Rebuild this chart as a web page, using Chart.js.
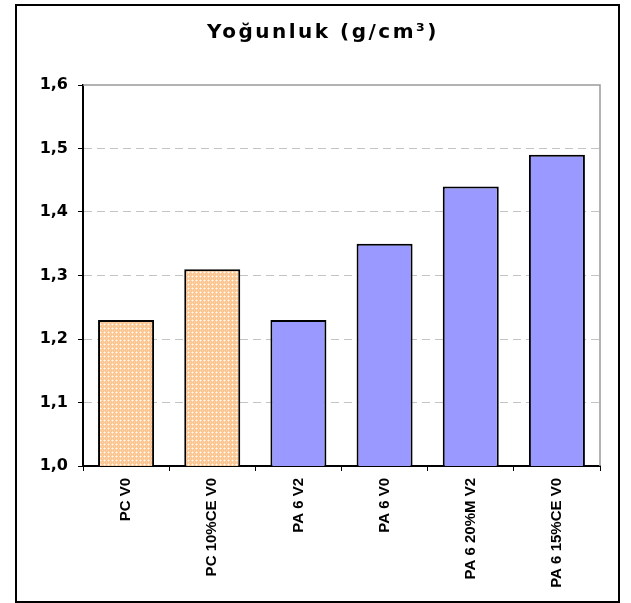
<!DOCTYPE html>
<html lang="tr">

<head>
    <meta charset="UTF-8">
    <title>Yoğunluk</title>
    <script src="https://cdn.jsdelivr.net/npm/chart.js"></script>
    <style>
        body { margin: 0; background: #fff; }
        .kutu { position: relative; width: 631px; height: 603px; }
        .cerceve {
            position: absolute; left: 15px; top: 4px; width: 605px; height: 599px;
            border: 2px solid #000; box-sizing: border-box; pointer-events: none;
        }
    </style>
</head>

<body>
    <div class="kutu">
        <canvas id="grafikYogunluk" width="631" height="603"></canvas>
        <div class="cerceve"></div>
    </div>
</body>

<script>
    const kategoriler = ['PC V0', 'PC 10%CE V0', 'PA 6 V2', 'PA 6 V0', 'PA 6 20%M V2', 'PA 6 15%CE V0'];
    const yogunluk = [1.23, 1.31, 1.23, 1.35, 1.44, 1.49];
    const malzemeTipi = ['PC', 'PC', 'PA', 'PA', 'PA', 'PA'];
    const yEtiketleri = ['1,0', '1,1', '1,2', '1,3', '1,4', '1,5', '1,6'];

    // turuncu kareli desen (PC cubuklari)
    function desenYap() {
        const c = document.createElement('canvas');
        c.width = 4; c.height = 4;
        const x = c.getContext('2d');
        x.fillStyle = '#fcc48f';
        x.fillRect(0, 0, 4, 4);
        x.fillStyle = '#ffe2c6';
        x.fillRect(1, 0, 1, 1);
        x.fillRect(3, 0, 1, 1);
        x.fillRect(0, 1, 1, 1);
        x.fillRect(0, 3, 1, 1);
        x.fillStyle = '#fffaf4';
        x.fillRect(0, 0, 1, 1);
        x.fillStyle = '#fdd3ab';
        x.fillRect(2, 2, 1, 1);
        return x.createPattern(c, 'repeat');
    }
    const desen = desenYap();
    const renkler = malzemeTipi.map(function (t) { return t === 'PC' ? desen : '#9999ff'; });

    const harfAraligi = {
        id: 'harfAraligi',
        beforeDraw: function (chart) { chart.ctx.letterSpacing = '2.5px'; },
        afterDatasetsDraw: function (chart) { chart.ctx.letterSpacing = '0px'; },
        afterDraw: function (chart) {
            const a = chart.chartArea, ctx = chart.ctx;
            ctx.save();
            ctx.strokeStyle = '#9a9a9a';
            ctx.lineWidth = 1.5;
            ctx.beginPath();
            ctx.moveTo(a.left, a.top);
            ctx.lineTo(a.right, a.top);
            ctx.lineTo(a.right, a.bottom);
            ctx.stroke();
            ctx.restore();
        }
    };

    new Chart(document.getElementById('grafikYogunluk'), {
        type: 'bar',
        data: {
            labels: kategoriler,
            datasets: [{
                data: yogunluk,
                backgroundColor: renkler,
                borderColor: '#000',
                borderWidth: 2,
                borderSkipped: 'bottom',
                categoryPercentage: 1,
                barPercentage: 0.65
            }]
        },
        options: {
            responsive: false,
            animation: false,
            layout: { padding: { left: 46, right: 31, top: 0, bottom: 0 } },
            plugins: {
                legend: { display: false },
                tooltip: { enabled: false },
                title: {
                    display: true,
                    text: 'Yoğunluk (g/cm³)',
                    color: '#000',
                    font: { family: 'DejaVu Sans', size: 20, weight: 'bold' },
                    padding: { top: 21, bottom: 40 }
                }
            },
            scales: {
                x: {
                    afterFit: function (s) { s.height = 137; },
                    grid: { drawOnChartArea: false, offset: true, tickColor: '#000', tickLength: 5 },
                    border: { color: '#000', width: 2 },
                    ticks: {
                        z: 1,
                        color: '#000',
                        minRotation: 90, maxRotation: 90,
                        padding: 7,
                        font: { family: 'Liberation Sans', size: 15, weight: 'bold' }
                    }
                },
                y: {
                    min: 1, max: 1.6,
                    afterFit: function (s) {
                        s.width = 37;
                        // etiketler eksen kutusunun soluna tasabilsin
                        s._computeLabelArea = function () { return null; };
                    },
                    grid: {
                        color: function (c) { return (c.index === 0 || c.index === 6) ? 'rgba(0,0,0,0)' : '#c4c4c4'; },
                        tickColor: '#000',
                        tickLength: 5
                    },
                    border: { color: '#000', width: 2, dash: [8, 5] },
                    ticks: {
                        z: 1,
                        stepSize: 0.1,
                        color: '#000',
                        padding: 10,
                        font: { family: 'DejaVu Sans', size: 16, weight: 'bold' },
                        callback: function (v, i) { return yEtiketleri[i]; }
                    }
                }
            }
        },
        plugins: [harfAraligi]
    });
</script>

</html>
